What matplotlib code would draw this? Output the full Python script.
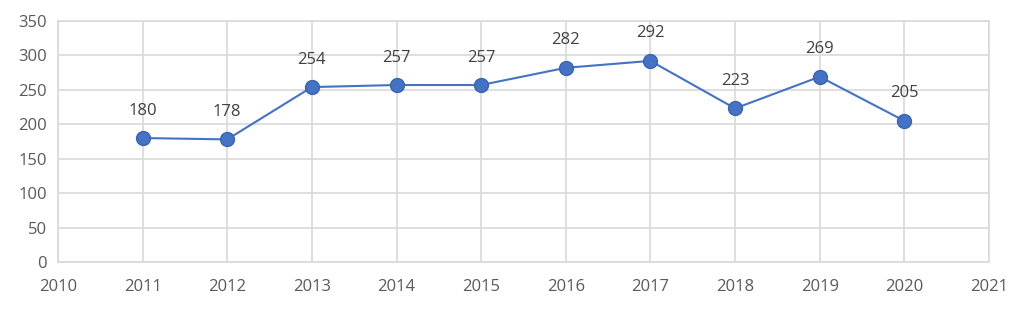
import matplotlib.pyplot as plt

years = [2011, 2012, 2013, 2014, 2015, 2016, 2017, 2018, 2019, 2020]
values = [180, 178, 254, 257, 257, 282, 292, 223, 269, 205]
x_ticks = list(range(2010, 2022))
y_ticks = list(range(0, 351, 50))

plt.rcParams['font.family'] = ['Open Sans', 'DejaVu Sans']

fig = plt.figure(figsize=(10.24, 3.13), dpi=100)
ax = fig.add_axes([0.0566, 0.163, 0.9092, 0.770])

ax.plot(years, values, color='#4472C4', lw=1.5, marker='o', markersize=10,
        markerfacecolor='#4472C4', markeredgecolor='#3B63AE', zorder=3)

for x, v in zip(years, values):
    ax.annotate(str(v), (x, v), xytext=(0, 14), textcoords='offset points',
                ha='center', va='bottom', fontsize=12, color='#404040')

ax.set_xlim(2010, 2021)
ax.set_ylim(0, 350)
ax.set_xticks(x_ticks)
ax.set_yticks(y_ticks)
ax.grid(True, color='#D9D9D9', lw=1.2)
ax.set_axisbelow(True)
for s in ax.spines.values():
    s.set_color('#D9D9D9')
    s.set_linewidth(1.2)
ax.tick_params(length=0, labelsize=12, colors='#595959', pad=8)
ax.tick_params(axis='x', pad=12)

fig.savefig('out.png', dpi=100, facecolor='white')
